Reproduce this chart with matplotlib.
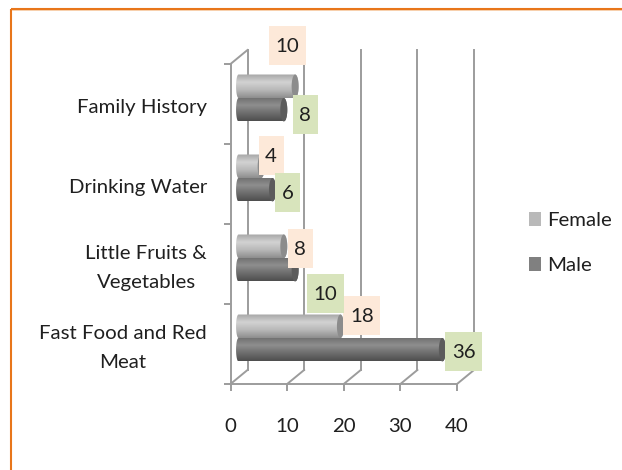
import numpy as np
import matplotlib
matplotlib.use('Agg')
import matplotlib.pyplot as plt
from matplotlib.colors import LinearSegmentedColormap
from matplotlib.lines import Line2D
from matplotlib.patches import Patch, PathPatch, Rectangle
from matplotlib.path import Path
from matplotlib.transforms import Affine2D

categories = ['Fast Food and Red\nMeat', 'Little Fruits &\nVegetables', 'Drinking Water', 'Family History']
female = [18, 8, 4, 10]
male = [36, 10, 6, 8]
x_ticks = [0, 10, 20, 30, 40]

# label offsets from the bar end, pixels
female_off = [(18, 11), (13, -2.5), (6.5, 10.5), (-11.5, 40.5)]
male_off = [(18, -2), (26.5, -24), (12, -3), (18, -5)]

W, H = 622, 470
GREY = '#9c9c9c'
LW = 1.4
DEPTH = (17, 14)
PX_X = 226.5 / 40  # pixels per unit
PX_Y = 80.0  # pixels per category

plt.rcParams['font.family'] = ['Lato', 'DejaVu Sans']
plt.rcParams['font.size'] = 14.7
TEXT = '#1f1f1f'

fig = plt.figure(figsize=(W / 100, H / 100), dpi=100, facecolor='white')
ax = fig.add_axes([230.5 / W, (H - 384) / H, 226.5 / W, 320 / H])
ax.set_xlim(0, 40)
ax.set_ylim(0, 4)
ax.patch.set_visible(False)
for s in ['top', 'right']:
	ax.spines[s].set_visible(False)
for s in ['left', 'bottom']:
	ax.spines[s].set_color(GREY)
	ax.spines[s].set_linewidth(LW)

ax.set_xticks(x_ticks)
ax.set_yticks(range(5))
ax.set_yticklabels([])
ax.set_yticks(np.arange(4) + 0.5 - 4 / PX_Y, minor=True)
ax.set_yticklabels(categories, minor=True, ha='right', ma='center', va='center', color=TEXT, linespacing=1.83)
ax.tick_params(axis='both', which='major', length=5, width=LW, color=GREY)
ax.tick_params(axis='x', pad=19.5, labelcolor=TEXT)
ax.tick_params(axis='y', which='minor', length=0, pad=17)

# back wall and floor
back = ax.transData + Affine2D().translate(*DEPTH)
for v in x_ticks:
	ax.plot([v, v], [0, 4], color=GREY, lw=LW, transform=back, clip_on=False, zorder=1)
	x0, y0 = ax.transData.transform((v, 0))
	fig.add_artist(Line2D([x0 / W, (x0 + DEPTH[0]) / W], [y0 / H, (y0 + DEPTH[1]) / H], color=GREY, lw=LW, zorder=1))
x0, y0 = ax.transData.transform((0, 4))
fig.add_artist(Line2D([x0 / W, (x0 + DEPTH[0]) / W], [y0 / H, (y0 + DEPTH[1]) / H], color=GREY, lw=LW, zorder=1))

female_cmap = LinearSegmentedColormap.from_list('f', ['#a6a6a6', '#d2d2d2', '#b8b8b8', '#8e8e8e'])
male_cmap = LinearSegmentedColormap.from_list('m', ['#6e6e6e', '#8e8e8e', '#6e6e6e', '#4e4e4e'])
grad = np.linspace(0, 1, 64).reshape(-1, 1)

BAR_H = 23.5 / PX_Y
START = 8.0 / PX_X
CAP = 3.5 / PX_X


def draw_bar(value, y_bot, cmap, cap_color, z):
	x_end = START + value
	t = np.linspace(np.pi / 2, -np.pi / 2, 24)
	yc = y_bot + BAR_H / 2
	right = np.column_stack([x_end + CAP * np.cos(t), yc + BAR_H / 2 * np.sin(t)])
	left = np.column_stack([START - 0.7 * CAP * np.cos(t), yc - BAR_H / 2 * np.sin(t)])
	pts = np.vstack([right, left, right[:1]])
	shape = PathPatch(Path(pts), fc='none', ec='none', transform=ax.transData)
	ax.add_patch(shape)
	im = ax.imshow(grad, extent=(START - CAP, x_end + CAP, y_bot, y_bot + BAR_H), aspect='auto',
		cmap=cmap, interpolation='bilinear', zorder=z, origin='upper')
	im.set_clip_path(shape)
	# end cap of the cylinder
	cap = np.column_stack([x_end + CAP * np.cos(np.linspace(0, 2 * np.pi, 48)),
		yc + BAR_H / 2 * np.sin(np.linspace(0, 2 * np.pi, 48))])
	ax.add_patch(PathPatch(Path(cap), fc=cap_color, ec='none', zorder=z + 0.1))


def draw_label(value, y_mid, off, color):
	x_px, y_px = ax.transData.transform((START + value + CAP, y_mid))
	tr = Affine2D().translate(x_px + off[0], y_px + off[1])
	w = 37 if value >= 10 else 25
	fig.add_artist(Rectangle((-w / 2, -19.5), w, 39, transform=tr, fc=color, ec='none', zorder=6))
	fig.text(0, -1, str(value), transform=tr, ha='center', va='center', color=TEXT, zorder=7)


for i in range(len(categories)):
	mid = i + 0.5 + 6 / PX_Y
	draw_bar(male[i], mid - BAR_H, male_cmap, '#5c5c5c', 3)
	draw_bar(female[i], mid, female_cmap, '#8c8c8c', 4)
	draw_label(female[i], mid + BAR_H / 2, female_off[i], '#fde9d9')
	draw_label(male[i], mid - BAR_H / 2, male_off[i], '#d8e4bc')

ax.set_xlim(0, 40)
ax.set_ylim(0, 4)

handles = [Patch(fc='#b9b9b9', ec='none', label='Female'), Patch(fc='#808080', ec='none', label='Male')]
fig.legend(handles=handles, loc='center left', bbox_to_anchor=(529 / W, (H - 243) / H), frameon=False,
	borderaxespad=0, borderpad=0, handlelength=0.59, handleheight=0.69, handletextpad=0.3, labelspacing=1.35,
	labelcolor=TEXT)

# orange slide border
fig.add_artist(Line2D([10.5 / W, 1], [(H - 8.5) / H] * 2, color='#e8761a', lw=1.5, solid_capstyle='butt'))
fig.add_artist(Line2D([10.5 / W] * 2, [0, (H - 8.5) / H], color='#e8761a', lw=1.5, solid_capstyle='butt'))
fig.add_artist(Line2D([12 / W, 1], [(H - 10) / H] * 2, color='#f6c9a0', lw=0.6))

fig.savefig('out.png', dpi=100)
